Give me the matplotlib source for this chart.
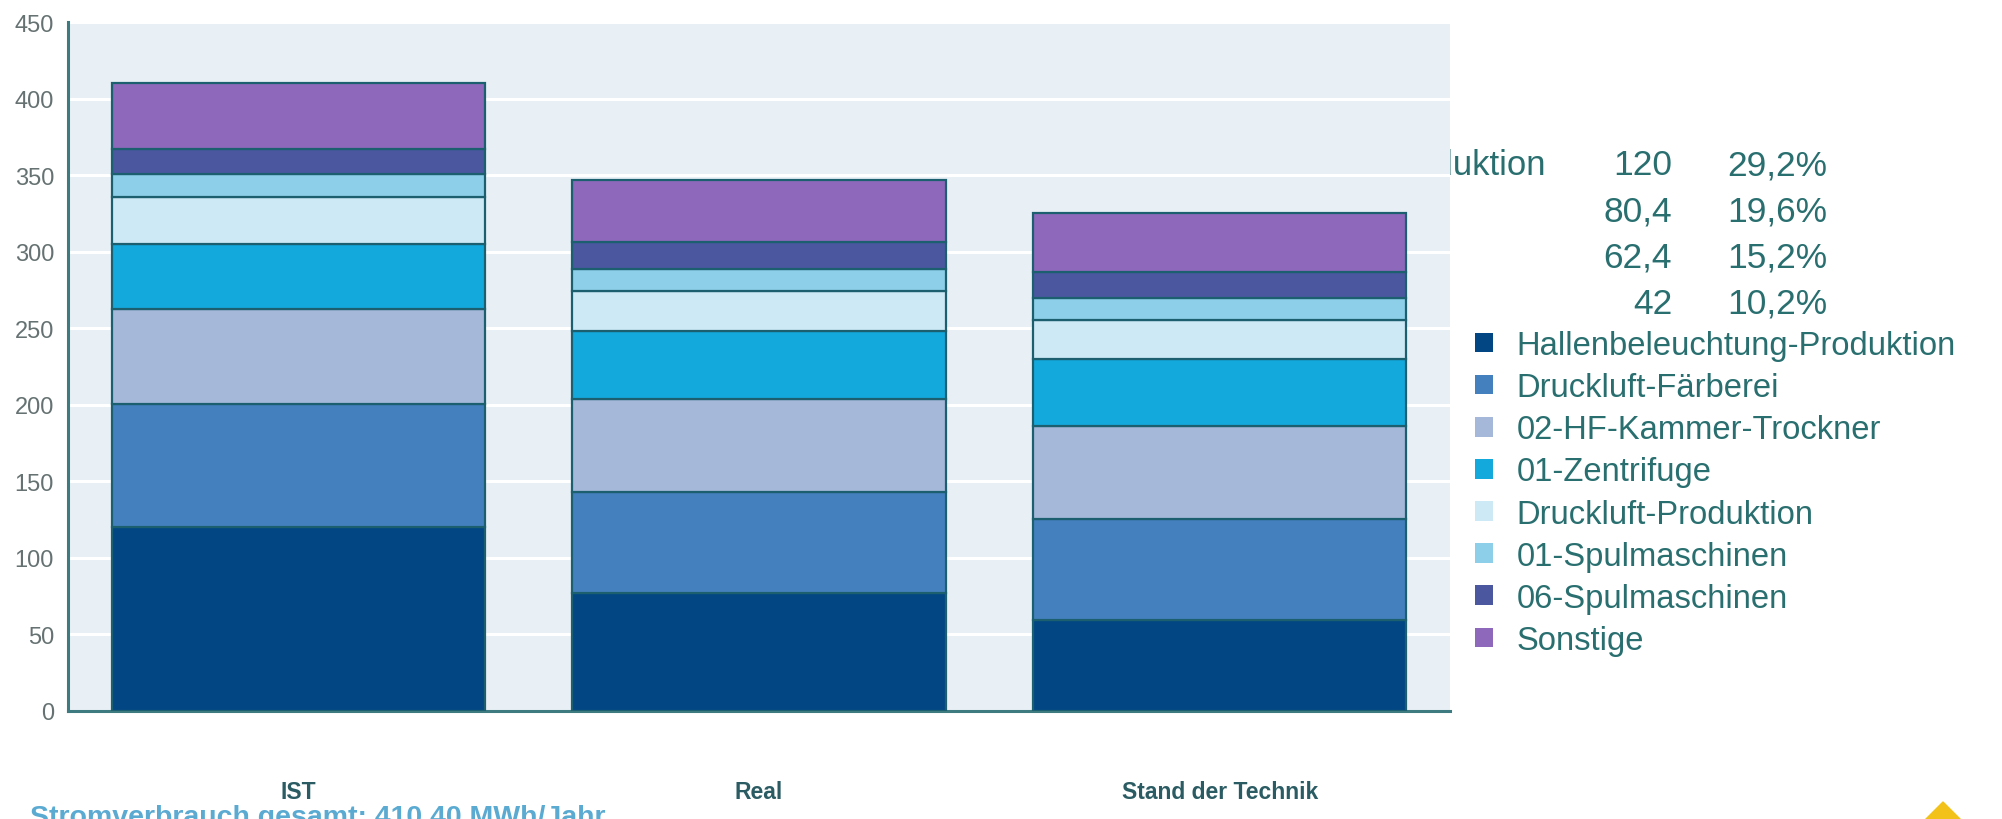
import matplotlib.pyplot as plt
import numpy as np
from matplotlib.patches import Polygon

plt.rcParams['font.family'] = ['Liberation Sans', 'DejaVu Sans']

# Daten
szenarien = ['IST', 'Real', 'Stand der Technik']
verbraucher = ['Hallenbeleuchtung-Produktion', 'Druckluft-Färberei',
               '02-HF-Kammer-Trockner', '01-Zentrifuge', 'Druckluft-Produktion',
               '01-Spulmaschinen', '06-Spulmaschinen', 'Sonstige']
ist = [120, 80.4, 62.4, 42, 30.9, 15.3, 16.0, 43.4]
real = [77, 66.3, 60.7, 44, 26.4, 14.4, 17.2, 41.0]
stand = [59.6, 65.8, 60.8, 44, 25.2, 14.6, 17.0, 38.3]
yticks = [0, 50, 100, 150, 200, 250, 300, 350, 400, 450]

farben = ['#024784', '#4580be', '#a5b8da', '#14a9dc',
          '#cde9f5', '#8dcfe8', '#4b58a0', '#8e68bb']
teal = '#2a6f70'

W, H = 2002, 820
fig = plt.figure(figsize=(W / 100, H / 100), dpi=100)
ax = fig.add_axes([68 / W, (H - 712) / H, (1450 - 68) / W, (712 - 23) / H])
ax.set_facecolor('#e8f0f5')

werte = np.array([ist, real, stand])
x = np.arange(len(szenarien))
unten = np.zeros(len(szenarien))
for i, name in enumerate(verbraucher):
    ax.bar(x, werte[:, i], bottom=unten, width=0.81, color=farben[i],
           edgecolor='#1c6070', linewidth=1.6, label=name, zorder=3)
    unten += werte[:, i]

ax.set_xlim(-0.5, 2.5)
ax.set_ylim(0, 450)
ax.set_yticks(yticks)
ax.yaxis.grid(True, color='white', linewidth=2.2, zorder=1)
ax.set_axisbelow(True)
for s in ['top', 'right']:
    ax.spines[s].set_visible(False)
for s in ['left', 'bottom']:
    ax.spines[s].set_color('#3d7b80')
    ax.spines[s].set_linewidth(2.2)
ax.tick_params(axis='y', length=0, pad=10, labelsize=17, labelcolor='#667272')
ax.set_xticks(x)
ax.set_xticklabels(szenarien, fontsize=16.5, fontweight='bold', color='#2b5c63')
ax.tick_params(axis='x', length=0, pad=50)

# Legende
leg = ax.legend(loc='upper left', bbox_to_anchor=(1475 / W, (H - 331) / H),
                bbox_transform=fig.transFigure, frameon=False, fontsize=23.6,
                labelcolor=teal, handlelength=0.55, handleheight=0.55,
                handletextpad=0.72, labelspacing=0.34, borderpad=0, borderaxespad=0)
for h in leg.legend_handles:
    h.set_edgecolor('none')

# Tabelle hinter dem Diagramm (nur das Ende der ersten Zeile ragt heraus)
gesamt = sum(ist)
zeilen_y = [166, 212, 258, 304]
fig.text(1546 / W, 1 - zeilen_y[0] / H, verbraucher[0], ha='right', va='center',
         fontsize=25, color=teal, zorder=-1)
for k in range(4):
    y = 1 - zeilen_y[k] / H
    zahl = f'{ist[k]:g}'.replace('.', ',')
    anteil = f'{ist[k] / gesamt * 100:.1f}%'.replace('.', ',')
    fig.text(1672 / W, y, zahl, ha='right', va='center', fontsize=25.5, color=teal)
    fig.text(1827 / W, y, anteil, ha='right', va='center', fontsize=25.5, color=teal)

# Fußzeile
summe = f'{gesamt:.2f}'.replace('.', ',')
fig.text(30 / W, -5 / H, f'Stromverbrauch gesamt: {summe} MWh/Jahr', ha='left',
         va='baseline', fontsize=20.5, fontweight='bold', color='#5aaad2')

# Logo-Ecke
fig.patches.append(Polygon([(1943 / W, 17 / H), (1965 / W, -5 / H), (1921 / W, -5 / H)],
                           closed=True, transform=fig.transFigure, color='#f2c21b'))

fig.savefig('out.png', dpi=100, facecolor='white')
